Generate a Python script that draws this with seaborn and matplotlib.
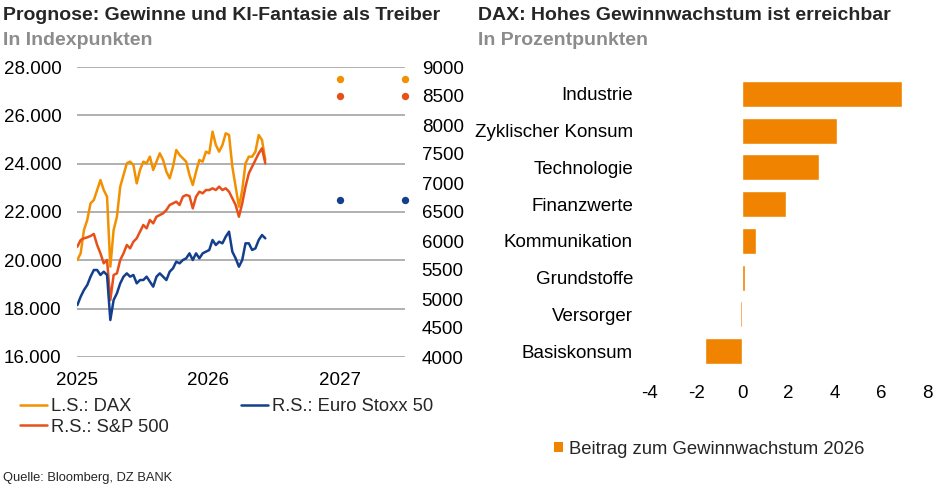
import pandas as pd
import matplotlib.pyplot as plt
from matplotlib.patches import Patch
import seaborn as sns

# ----- data -----
dax = [20014, 20290, 21255, 21669, 22359, 22497, 22910, 23324, 22910, 22635,
       19738, 21255, 21807, 23048, 23531, 24014, 24083, 23945, 23186, 23738,
       24083,
       24014, 24290, 23738, 24083, 24428, 24152, 23669, 23393, 23876, 24566,
       24359, 24221, 24083, 23531, 23117, 23669, 24152, 24083, 24497,
       24428, 25324, 24772, 24497, 24772, 25255, 25186, 23876, 23048, 22221,
       22910, 24014, 24290, 24290, 24497, 25186, 24979, 24152]
sp500 = [5902, 6017, 6046, 6063, 6086, 6121, 5931, 5787, 5615, 5672,
         4983, 5414, 5442, 5672, 5787, 5931, 5873, 5988, 6046, 6161,
         6276,
         6218, 6362, 6304, 6419, 6448, 6477, 6534, 6621, 6649, 6678,
         6621, 6764, 6793, 6776, 6563, 6764, 6850, 6822, 6879,
         6879, 6908, 6879, 6937, 6879, 6908, 6850, 6736, 6621, 6419,
         6649, 6937, 7166, 7281, 7396, 7511, 7598, 7339]
stoxx = [4896, 5040, 5155, 5241, 5385, 5500, 5500, 5414, 5471, 5414,
         4638, 4983, 5098, 5270, 5385, 5442, 5385, 5414, 5270, 5327,
         5327,
         5385, 5299, 5213, 5385, 5442, 5385, 5327, 5471, 5529, 5644,
         5615, 5672, 5701, 5787, 5672, 5787, 5701, 5787, 5816,
         5845, 6017, 5931, 5988, 5960, 6075, 6161, 5816, 5701, 5557,
         5672, 5960, 5960, 5845, 5873, 6017, 6103, 6046]
series_start = "2025-01-02"
series_end = "2026-06-08"

forecast_dates = ["2027-01-01", "2027-07-01"]
dax_forecast = [27500, 27500]
sp500_forecast = [8500, 8500]
stoxx_forecast = [6700, 6700]

sectors = ["Industrie", "Zyklischer Konsum", "Technologie", "Finanzwerte",
           "Kommunikation", "Grundstoffe", "Versorger", "Basiskonsum"]
contribution = [6.9, 4.1, 3.3, 1.9, 0.6, 0.1, -0.08, -1.6]

c_dax = "#F39000"
c_sp = "#E8501A"
c_stoxx = "#133F8C"
c_bar = "#F08300"
grid_col = "#9B9B9B"
fs = 13.5

sns.set_theme(style="white")
plt.rcParams["font.family"] = ["Liberation Sans", "DejaVu Sans"]
plt.rcParams["font.size"] = fs
plt.rcParams["axes.unicode_minus"] = False

W, H = 941, 493
fig = plt.figure(figsize=(W / 100, H / 100), dpi=100)

# ----- left: index lines -----
ax = fig.add_axes([77 / W, 1 - 357 / H, 328 / W, 290 / H])
ax2 = ax.twinx()

df = pd.DataFrame({"date": pd.date_range(series_start, series_end, periods=len(dax)),
                   "dax": dax, "sp500": sp500, "stoxx": stoxx})
fc = pd.DataFrame({"date": pd.to_datetime(forecast_dates), "dax": dax_forecast,
                   "sp500": sp500_forecast, "stoxx": stoxx_forecast})

sns.lineplot(data=df, x="date", y="dax", ax=ax, color=c_dax, lw=1.8,
             label="L.S.: DAX", legend=False)
sns.lineplot(data=df, x="date", y="sp500", ax=ax2, color=c_sp, lw=1.8,
             label="R.S.: S&P 500", legend=False)
sns.lineplot(data=df, x="date", y="stoxx", ax=ax2, color=c_stoxx, lw=1.8,
             label="R.S.: Euro Stoxx 50", legend=False)
sns.scatterplot(data=fc, x="date", y="dax", ax=ax, color=c_dax, s=28,
                linewidth=0, clip_on=False, legend=False)
sns.scatterplot(data=fc, x="date", y="sp500", ax=ax2, color=c_sp, s=28,
                linewidth=0, clip_on=False, legend=False)
sns.scatterplot(data=fc, x="date", y="stoxx", ax=ax2, color=c_stoxx, s=28,
                linewidth=0, clip_on=False, legend=False)

ax.set_xlim(pd.Timestamp("2025-01-01"), pd.Timestamp("2027-07-01"))
ax.set_xticks([pd.Timestamp(f"{y}-01-01") for y in (2025, 2026, 2027)])
ax.set_xticklabels(["2025", "2026", "2027"])
ax.set_ylim(16000, 28000)
left_ticks = list(range(16000, 28001, 2000))
ax.set_yticks(left_ticks)
ax.set_yticklabels([f"{v:,}".replace(",", ".") for v in left_ticks])
ax2.set_ylim(4000, 9000)
right_ticks = list(range(4000, 9001, 500))
ax2.set_yticks(right_ticks)
ax2.set_yticklabels([str(v) for v in right_ticks])

ax.yaxis.grid(True, color=grid_col, lw=1.1)
ax.xaxis.grid(False)
ax.set_axisbelow(True)
for a in (ax, ax2):
    a.set_xlabel("")
    a.set_ylabel("")
    for s in a.spines.values():
        s.set_visible(False)
    a.tick_params(length=0, labelsize=fs, colors="black")
ax.tick_params(axis="x", pad=10.8)
ax.tick_params(axis="y", pad=11.2)
ax2.tick_params(axis="y", pad=12)

h1, l1 = ax.get_legend_handles_labels()
h2, l2 = ax2.get_legend_handles_labels()
fig.legend(h1 + h2, l1 + l2, loc="upper left", bbox_to_anchor=(20 / W, 1 - 398 / H),
           ncol=2, frameon=False, fontsize=13.2, handlelength=1.45, handletextpad=0.25,
           columnspacing=3.95, labelspacing=0.2, borderaxespad=0, borderpad=0)

# ----- right: sector bars -----
bx = fig.add_axes([650 / W, 1 - 369.5 / H, 277 / W, 293.9 / H])
sns.barplot(x=contribution, y=sectors, orient="h", color=c_bar, saturation=1,
            width=0.71, ax=bx)
bx.set_xlim(-4, 8)
bx.set_xticks(list(range(-4, 9, 2)))
bx.set_ylim(7.5, -0.5)
bx.set_xlabel("")
bx.set_ylabel("")
for s in bx.spines.values():
    s.set_visible(False)
bx.tick_params(length=0, labelsize=fs, colors="black")
bx.tick_params(axis="x", pad=11.2)
bx.tick_params(axis="y", pad=12.2)

fig.legend(handles=[Patch(facecolor=c_bar, edgecolor="none")],
           labels=["Beitrag zum Gewinnwachstum 2026"], loc="upper left",
           bbox_to_anchor=(554 / W, 1 - 440.5 / H), frameon=False, fontsize=13.3,
           handlelength=0.5, handleheight=0.5, handletextpad=0.3,
           borderaxespad=0, borderpad=0)

# ----- titles and source -----
fig.text(3 / W, 1 - 20 / H, "Prognose: Gewinne und KI-Fantasie als Treiber",
         fontsize=14, fontweight="bold", va="baseline")
fig.text(3 / W, 1 - 45 / H, "In Indexpunkten", fontsize=14, fontweight="bold",
         color="#8C8C8C", va="baseline")
fig.text(478 / W, 1 - 20 / H, "DAX: Hohes Gewinnwachstum ist erreichbar",
         fontsize=14, fontweight="bold", va="baseline")
fig.text(478 / W, 1 - 45 / H, "In Prozentpunkten", fontsize=14, fontweight="bold",
         color="#8C8C8C", va="baseline")
fig.text(3 / W, 1 - 480.5 / H, "Quelle: Bloomberg, DZ BANK", fontsize=9.3,
         va="baseline")

fig.savefig("out.png", dpi=100)
